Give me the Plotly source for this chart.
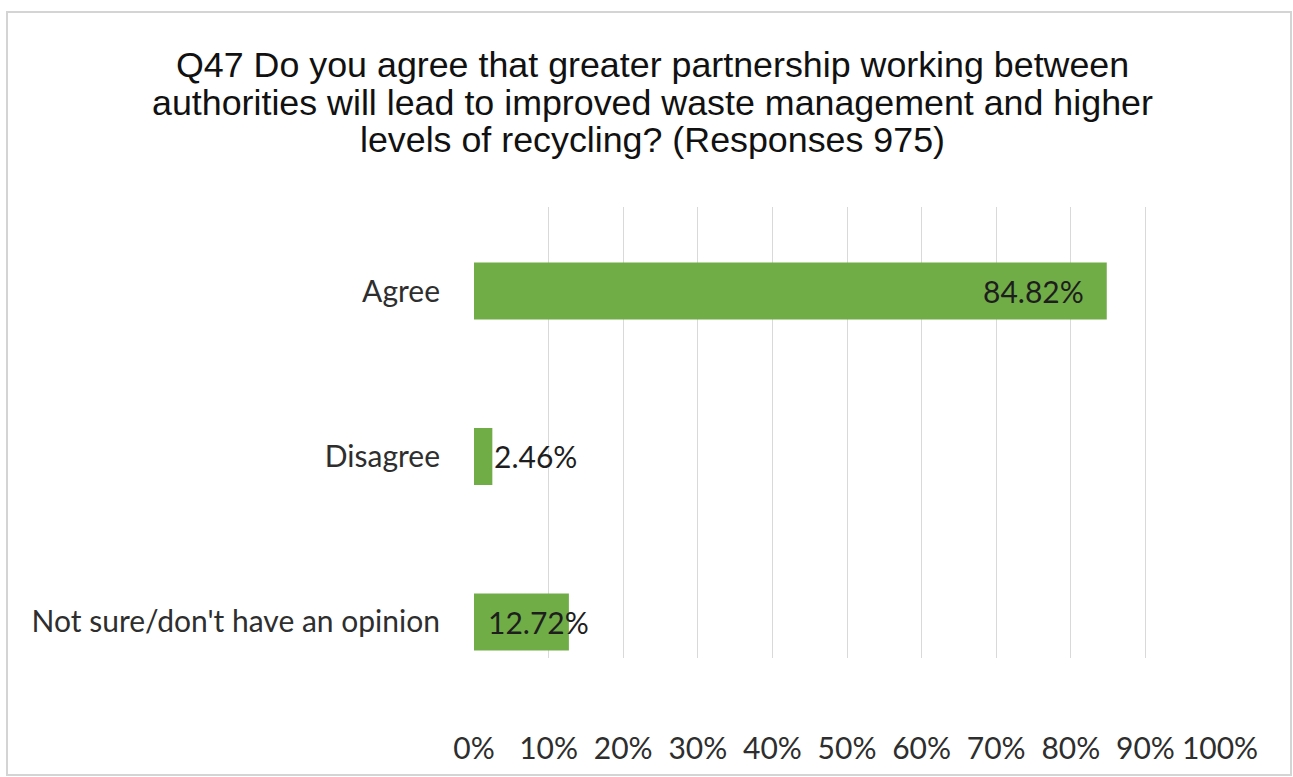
import plotly.graph_objects as go

# Survey results for Q47
categories = ["Agree", "Disagree", "Not sure/don't have an opinion"]
shares = [84.82, 2.46, 12.72]
tick_values = [0, 10, 20, 30, 40, 50, 60, 70, 80, 90, 100]
tick_labels = ["0%", "10%", "20%", "30%", "40%", "50%", "60%", "70%", "80%", "90%", "100%"]
title_lines = [
    "Q47 Do you agree that greater partnership working between",
    "authorities will lead to improved waste management and higher",
    "levels of recycling? (Responses 975)",
]

W, H = 1293, 777
L, R, T, B = 474, 73, 207, 119
plot_w = W - L - R
plot_h = H - T - B

BAR_GREEN = "#70AD47"
TEXT = "#2e2e2e"
LABEL_FONT = "Lato, 'Open Sans', sans-serif"
LABEL_SIZE = 30

fig = go.Figure(
    go.Bar(
        x=shares,
        y=categories,
        orientation="h",
        marker=dict(color=BAR_GREEN, line=dict(width=0)),
        hoverinfo="skip",
    )
)

# value labels: inside end for the long bar, beside the short ones
label_specs = [
    dict(xanchor="right", xshift=-21),
    dict(xanchor="left", xshift=0),
    dict(xanchor="right", xshift=22),
]
for cat, val, spec in zip(categories, shares, label_specs):
    fig.add_annotation(
        x=val, y=cat, xref="x", yref="y",
        text=f"{val:.2f}%", showarrow=False,
        font=dict(family=LABEL_FONT, size=LABEL_SIZE, color="#1e1e1e"),
        **spec,
    )

# chart title, one line at a time for tight leading
title_rows_px = [65, 103, 140]
for line, py in zip(title_lines, title_rows_px):
    fig.add_annotation(
        xref="paper", yref="paper",
        x=(652 - L) / plot_w, y=(H - B - py) / plot_h,
        xanchor="center", yanchor="middle",
        text=line, showarrow=False,
        font=dict(family="'Liberation Sans', Arial, sans-serif", size=35.8, color="#111111"),
    )

# chart frame
fig.add_shape(
    type="rect", xref="paper", yref="paper",
    x0=(7 - L) / plot_w, x1=(1291 - L) / plot_w,
    y0=(H - B - 775) / plot_h, y1=(H - B - 12) / plot_h,
    line=dict(color="#d4d4d4", width=2), fillcolor="rgba(0,0,0,0)", layer="below",
)

fig.update_layout(
    width=W, height=H,
    margin=dict(l=L, r=R, t=T, b=B, pad=0),
    paper_bgcolor="white", plot_bgcolor="white",
    bargap=0.655,
    showlegend=False,
    xaxis=dict(
        range=[0, 100], tickvals=tick_values, ticktext=tick_labels,
        showgrid=True, gridcolor="#d9d9d9", gridwidth=1,
        zeroline=False, showline=False, ticks="",
        ticklabelstandoff=70,
        tickfont=dict(family=LABEL_FONT, size=LABEL_SIZE, color=TEXT),
        fixedrange=True,
    ),
    yaxis=dict(
        categoryorder="array", categoryarray=categories,
        range=[2.218, -0.508],
        showgrid=False, zeroline=False, showline=False, ticks="",
        ticklabelstandoff=33,
        tickfont=dict(family=LABEL_FONT, size=LABEL_SIZE, color=TEXT),
        fixedrange=True,
    ),
)

fig.write_html("out.html", config={"displayModeBar": False})
